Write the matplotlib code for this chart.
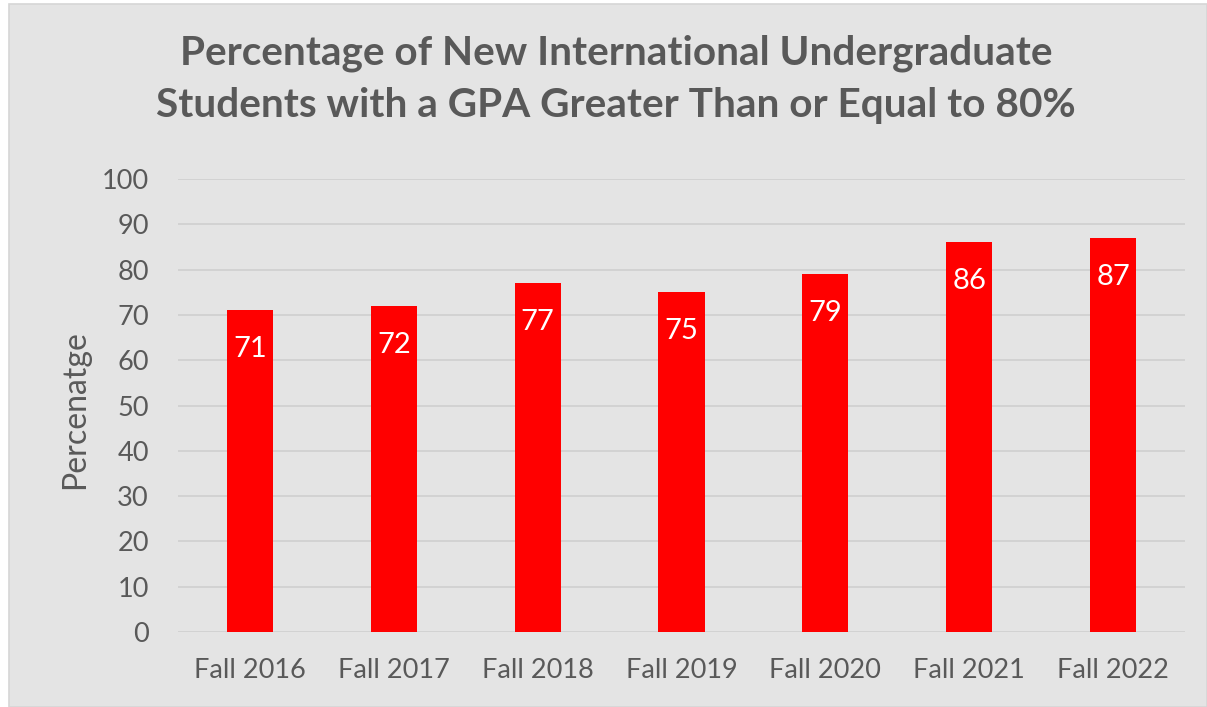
import matplotlib
matplotlib.use("Agg")
import matplotlib.pyplot as plt
from matplotlib.patches import Rectangle

categories = ["Fall 2016", "Fall 2017", "Fall 2018", "Fall 2019", "Fall 2020", "Fall 2021", "Fall 2022"]
values = [71, 72, 77, 75, 79, 86, 87]
yticks = [0, 10, 20, 30, 40, 50, 60, 70, 80, 90, 100]

title = "Percentage of New International Undergraduate\nStudents with a GPA Greater Than or Equal to 80%"
ylabel = "Percenatge"

W, H = 1207, 707
DPI = 100
plt.rcParams["font.family"] = ["Lato", "DejaVu Sans"]
text_color = "#595959"

fig = plt.figure(figsize=(W / DPI, H / DPI), dpi=DPI, facecolor="white")

# chart area panel
fig.patches.append(Rectangle((9 / W, 0), 1 - 9 / W, 1 - 4 / H, transform=fig.transFigure,
                             facecolor="#e4e4e4", edgecolor="#d6d6d6", linewidth=1.2, zorder=-1))

left, right = 178 / W, 1185 / W
bottom, top = 1 - 632 / H, 1 - 179 / H
ax = fig.add_axes([left, bottom, right - left, top - bottom])
ax.set_facecolor("none")

x = list(range(len(categories)))
bars = ax.bar(x, values, width=0.32, color="#ff0000", zorder=3)
for xi, v in zip(x, values):
    ax.annotate(str(v), (xi, v), xytext=(0, -28), textcoords="offset points",
                ha="center", va="center", color="white", fontsize=21, zorder=4)

ax.set_xlim(-0.5, len(categories) - 0.5)
ax.set_ylim(0, 100)
ax.set_yticks(yticks)
ax.set_xticks(x)
ax.set_xticklabels(categories)
ax.tick_params(axis="both", length=0, colors=text_color, labelsize=19.5)
ax.tick_params(axis="y", pad=21)
ax.tick_params(axis="x", pad=19)
ax.grid(axis="y", color="#cfcfcf", linewidth=1.2, zorder=0)
for s in ax.spines.values():
    s.set_visible(False)

fig.text(75 / W, 1 - 410 / H, ylabel, rotation=90, ha="center", va="center",
         color=text_color, fontsize=23)
fig.text(616 / W, 1 - 79 / H, title, ha="center", va="center", color=text_color,
         fontsize=29.2, fontweight="bold", linespacing=1.5)

fig.savefig("out.png", dpi=DPI, facecolor="white")
